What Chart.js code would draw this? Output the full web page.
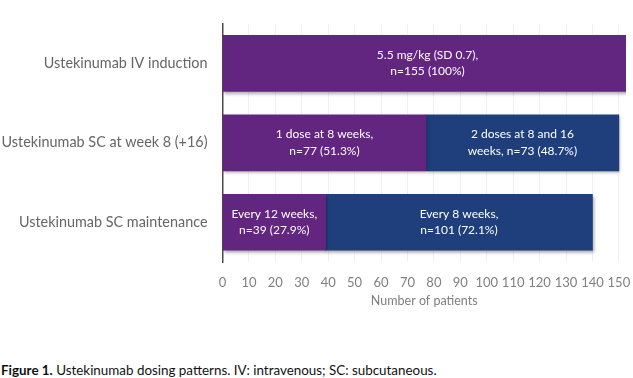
<!DOCTYPE html>
<html>
<head>
<meta charset="utf-8">
<script src="https://cdn.jsdelivr.net/npm/chart.js@4.4.1/dist/chart.umd.min.js"></script>
<style>
  html, body { margin: 0; padding: 0; background: #ffffff; }
  #wrap { position: relative; width: 633px; height: 378px; overflow: hidden; }
  #chartBox { position: absolute; left: 0; top: 0; width: 633px; height: 316px; }
  #caption { position: absolute; left: 1px; top: 362px; font-family: Lato, "Open Sans", sans-serif; font-size: 13.4px; color: #111; white-space: nowrap; }
  #caption b { font-weight: 700; }
</style>
</head>
<body>
<div id="wrap">
  <div id="chartBox"><canvas id="c"></canvas></div>
  <div id="caption"><b>Figure 1.</b> Ustekinumab dosing patterns. IV: intravenous; SC: subcutaneous.</div>
</div>
<script>
const categories = ['Ustekinumab IV induction', 'Ustekinumab SC at week 8 (+16)', 'Ustekinumab SC maintenance'];
const firstValues = [155, 77, 39];
const secondValues = [null, 73, 101];
const firstLabels = [['5.5 mg/kg (SD 0.7),', 'n=155 (100%)'], ['1 dose at 8 weeks,', 'n=77 (51.3%)'], ['Every 12 weeks,', 'n=39 (27.9%)']];
const secondLabels = [null, ['2 doses at 8 and 16', 'weeks, n=73 (48.7%)'], ['Every 8 weeks,', 'n=101 (72.1%)']];
const tickValues = [0, 10, 20, 30, 40, 50, 60, 70, 80, 90, 100, 110, 120, 130, 140, 150];
const axisTitle = 'Number of patients';

const shadowPlugin = {
  id: 'barShadow',
  beforeDatasetsDraw(chart) {
    const ctx = chart.ctx;
    ctx.save();
    ctx.shadowColor = 'rgba(0,0,0,0.35)';
    ctx.shadowBlur = 3;
    ctx.shadowOffsetX = 1;
    ctx.shadowOffsetY = 2;
  },
  afterDatasetsDraw(chart) {
    chart.ctx.restore();
  }
};

const labelPlugin = {
  id: 'segLabels',
  afterDatasetsDraw(chart) {
    const ctx = chart.ctx;
    ctx.save();
    ctx.fillStyle = '#ffffff';
    ctx.font = '12px Lato, "Open Sans", sans-serif';
    ctx.textAlign = 'center';
    ctx.textBaseline = 'middle';
    chart.data.datasets.forEach((ds, di) => {
      const meta = chart.getDatasetMeta(di);
      meta.data.forEach((el, i) => {
        const lines = ds.segLabels[i];
        if (!lines || ds.data[i] == null) return;
        const cx = (el.x + el.base) / 2;
        const cy = el.y;
        const lh = 16.5;
        const start = cy - (lines.length - 1) * lh / 2;
        lines.forEach((t, k) => ctx.fillText(t, cx, start + k * lh));
      });
    });
    ctx.restore();
  }
};

new Chart(document.getElementById('c'), {
  type: 'bar',
  data: {
    labels: categories,
    datasets: [
      { data: firstValues, backgroundColor: '#622580', segLabels: firstLabels, barThickness: 56 },
      { data: secondValues, backgroundColor: '#1E3F7B', segLabels: secondLabels, barThickness: 56 }
    ]
  },
  options: {
    indexAxis: 'y',
    responsive: true,
    maintainAspectRatio: false,
    animation: false,
    layout: { padding: { left: 0, right: 7, top: 0, bottom: 0 } },
    plugins: { legend: { display: false }, tooltip: { enabled: false } },
    scales: {
      x: {
        stacked: true,
        min: 0,
        max: 152.7,
        afterBuildTicks(scale) { scale.ticks = tickValues.map(v => ({ value: v })); },
        afterFit(scale) { scale.height = 54; scale.paddingLeft = 0; scale.paddingRight = 0; },
        grid: { color: '#f1f1f1', lineWidth: 1, drawTicks: false },
        border: { display: false },
        ticks: { color: '#7f7f7f', font: { family: 'Lato', size: 13 }, padding: 13, maxRotation: 0, autoSkip: false },
        title: { display: true, text: axisTitle, color: '#7f7f7f', font: { family: 'Lato', size: 12.5 }, padding: { top: 0, bottom: 8 } }
      },
      y: {
        stacked: true,
        afterFit(scale) { scale.width = 222.5; },
        grid: { display: false, drawTicks: false },
        border: { display: true, color: '#4a4a4a', width: 1.5 },
        ticks: { color: '#666666', font: { family: 'Lato', size: 14.4 }, padding: 15 }
      }
    }
  },
  plugins: [shadowPlugin, labelPlugin]
});
</script>
</body>
</html>
